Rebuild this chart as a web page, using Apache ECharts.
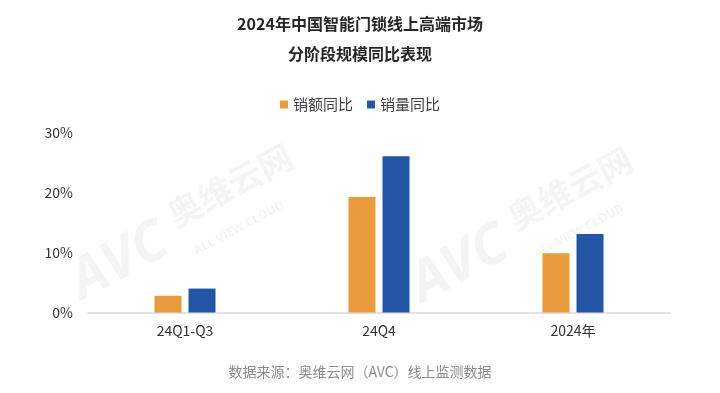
<!DOCTYPE html>
<html>
<head>
<meta charset="utf-8">
<script src="https://cdn.jsdelivr.net/npm/echarts@6/dist/echarts.min.js"></script>
<style>
html,body{margin:0;padding:0;background:#fff;}
#chart{width:720px;height:393px;}
</style>
</head>
<body>
<div id="chart"></div>
<script>
const categories = ['24Q1-Q3', '24Q4', '2024年'];
const salesValueYoY = [2.8, 19.3, 9.9];
const salesVolumeYoY = [4.0, 26.1, 13.1];
const seriesNames = ['销额同比', '销量同比'];
const yTicks = [0, 10, 20, 30];

const FONT = '"Noto Sans CJK SC", "Noto Sans", sans-serif';
const WM = 'rgba(0,0,0,0.045)';

function watermark(x, y) {
  return {
    type: 'group', x: x, y: y, rotation: 28 * Math.PI / 180, silent: true, z: 0,
    children: [
      { type: 'text', x: 0, y: 0, style: { text: 'AVC', font: 'italic bold 56px "Open Sans", sans-serif', fill: WM, textAlign: 'center', textVerticalAlign: 'middle' } },
      { type: 'text', x: 133, y: -16, style: { text: '奥维云网', font: 'bold 34px ' + FONT, fill: WM, textAlign: 'center', textVerticalAlign: 'middle' } },
      { type: 'text', x: 121, y: 26, style: { text: 'ALL VIEW CLOUD', font: 'bold 12px "Open Sans", sans-serif', fill: WM, textAlign: 'center', textVerticalAlign: 'middle' } }
    ]
  };
}

const chart = echarts.init(document.getElementById('chart'));
chart.setOption({
  backgroundColor: '#fff',
  animation: false,
  title: {
    text: '2024年中国智能门锁线上高端市场\n分阶段规模同比表现',
    left: 'center',
    top: 4,
    textStyle: { fontFamily: FONT, fontSize: 16, fontWeight: 'bold', color: '#262626', lineHeight: 30 }
  },
  legend: {
    data: seriesNames,
    top: 92,
    left: 'center',
    itemWidth: 8,
    itemHeight: 8,
    itemGap: 14,
    icon: 'rect',
    textStyle: { fontFamily: FONT, fontSize: 15, color: '#404040' }
  },
  graphic: [
    watermark(120, 262),
    watermark(460, 265),
    {
      type: 'text', left: 'center', top: 365, silent: true,
      style: { text: '数据来源：奥维云网（AVC）线上监测数据', font: '14px ' + FONT, fill: '#8c8c8c' }
    }
  ],
  grid: { left: 88, right: 50, top: 133, bottom: 80.5, containLabel: false },
  xAxis: {
    type: 'category',
    data: categories,
    axisLine: { lineStyle: { color: '#d9d9d9', width: 1.5 } },
    axisTick: { show: false },
    axisLabel: { fontFamily: FONT, fontSize: 14, color: '#333', margin: 11 }
  },
  yAxis: {
    type: 'value',
    min: yTicks[0],
    max: yTicks[yTicks.length - 1],
    interval: 10,
    axisLine: { show: false },
    axisTick: { show: false },
    splitLine: { show: false },
    axisLabel: { fontFamily: FONT, fontSize: 14, color: '#333', margin: 15, formatter: '{value}%' }
  },
  series: [
    {
      name: seriesNames[0], type: 'bar', data: salesValueYoY,
      barWidth: 27, barGap: '26%',
      itemStyle: { color: '#E99A3C' }, z: 3
    },
    {
      name: seriesNames[1], type: 'bar', data: salesVolumeYoY,
      barWidth: 27, barGap: '26%',
      itemStyle: { color: '#2356A6' }, z: 3
    }
  ]
});
</script>
</body>
</html>
